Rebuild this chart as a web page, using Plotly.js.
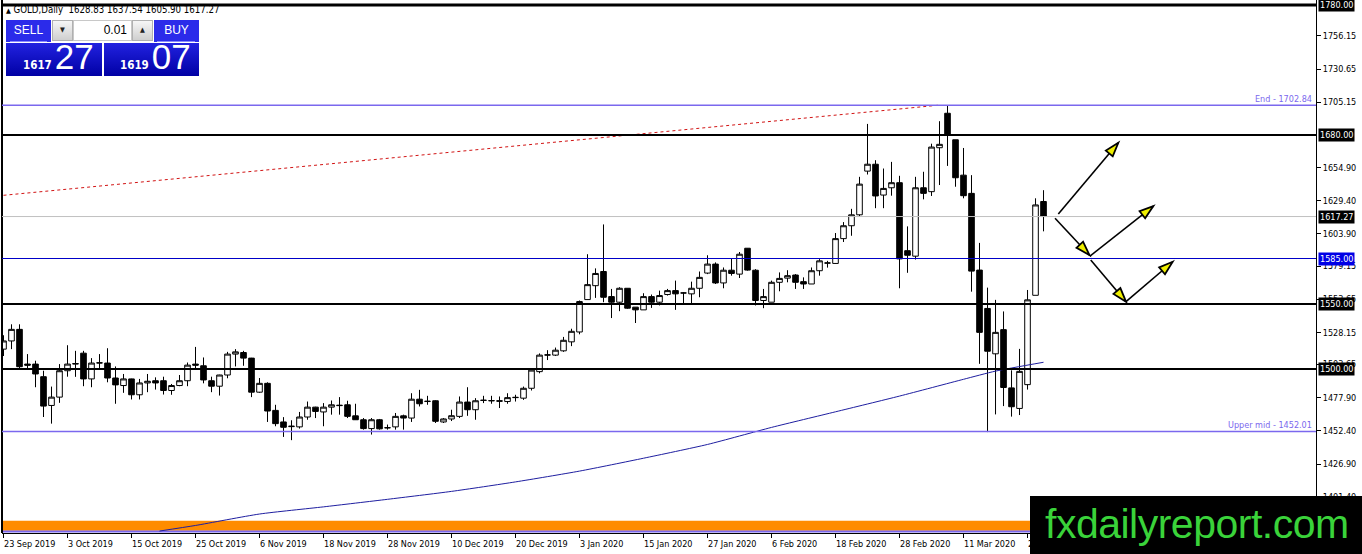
<!DOCTYPE html>
<html><head><meta charset="utf-8">
<script src="https://cdn.plot.ly/plotly-3.0.1.min.js"></script>
<style>
body{margin:0;padding:0;width:1362px;height:554px;overflow:hidden;background:#fff;position:relative;font-family:'DejaVu Sans Condensed','DejaVu Sans',sans-serif;}
#chart{position:absolute;left:0;top:0;width:1362px;height:554px;}
.abs{position:absolute;}
#hdr{left:6px;top:4px;font-size:9.6px;color:#000;white-space:pre;line-height:11px;}
.blueTop{background:#2b2bea;color:#fff;font-family:'Liberation Sans',sans-serif;font-size:12px;text-align:center;line-height:21px;}
.blueBig{background:linear-gradient(#2222e0,#0000a4);color:#fff;}
.sep{background:#8a8aff;height:1px;}
.btn{background:linear-gradient(#f6f6f6,#cfcfcf);border:1px solid #b0b0b0;box-sizing:border-box;font-size:7px;text-align:center;line-height:19px;color:#222;}
#inp{background:#fff;border:1px solid #c8c8c8;box-sizing:border-box;font-family:'Liberation Sans',sans-serif;font-size:12px;text-align:right;padding-right:4px;line-height:19px;color:#000;}
.pr{position:absolute;bottom:2px;display:flex;align-items:baseline;white-space:nowrap;}
.pr .s{font-family:'DejaVu Sans Condensed','DejaVu Sans',sans-serif;font-weight:bold;font-size:11.5px;}
.pr .b{font-family:'Liberation Sans Narrow','Liberation Sans',sans-serif;font-size:35px;margin-left:3px;line-height:34px;}
#wm{left:1030px;top:496px;width:332px;height:58px;background:#000;color:#3ad33a;font-family:'Liberation Sans',sans-serif;font-size:41px;letter-spacing:-0.5px;line-height:56px;text-align:left;padding-left:15px;box-sizing:border-box;white-space:nowrap;}
</style>
</head><body>
<div id="chart"></div>
<div id="hdr" class="abs"><span style="font-size:7px">▲</span> GOLD,Daily  1628.83 1637.54 1605.90 1617.27</div>
<div class="abs blueTop" style="left:6px;top:20px;width:45px;height:22px;">SELL</div>
<div class="abs sep" style="left:10px;top:41px;width:37px;"></div>
<div class="abs btn" style="left:52px;top:20px;width:21px;height:21px;">▼</div>
<div id="inp" class="abs" style="left:73px;top:20px;width:59px;height:21px;">0.01</div>
<div class="abs btn" style="left:132px;top:20px;width:21px;height:21px;">▲</div>
<div class="abs blueTop" style="left:154px;top:20px;width:45px;height:22px;">BUY</div>
<div class="abs sep" style="left:157px;top:41px;width:38px;"></div>
<div class="abs blueBig" style="left:6px;top:43px;width:96px;height:33px;"><div class="pr" style="left:17px;"><span class="s">1617</span><span class="b">27</span></div></div>
<div class="abs blueBig" style="left:104px;top:43px;width:95px;height:33px;"><div class="pr" style="left:16px;"><span class="s">1619</span><span class="b">07</span></div></div>
<div id="wm" class="abs">fxdailyreport.com</div>
<script>
// ---------- data ----------
const dates = [
'2019-09-23','2019-09-24','2019-09-25','2019-09-26','2019-09-27','2019-09-30',
'2019-10-01','2019-10-02','2019-10-03','2019-10-04','2019-10-07','2019-10-08','2019-10-09','2019-10-10','2019-10-11','2019-10-14','2019-10-15','2019-10-16','2019-10-17','2019-10-18','2019-10-21','2019-10-22','2019-10-23','2019-10-24','2019-10-25','2019-10-28','2019-10-29','2019-10-30','2019-10-31',
'2019-11-01','2019-11-04','2019-11-05','2019-11-06','2019-11-07','2019-11-08','2019-11-11','2019-11-12','2019-11-13','2019-11-14','2019-11-15','2019-11-18','2019-11-19','2019-11-20','2019-11-21','2019-11-22','2019-11-25','2019-11-26','2019-11-27','2019-11-28','2019-11-29',
'2019-12-02','2019-12-03','2019-12-04','2019-12-05','2019-12-06','2019-12-09','2019-12-10','2019-12-11','2019-12-12','2019-12-13','2019-12-16','2019-12-17','2019-12-18','2019-12-19','2019-12-20','2019-12-23','2019-12-24','2019-12-26','2019-12-27','2019-12-30','2019-12-31',
'2020-01-02','2020-01-03','2020-01-06','2020-01-07','2020-01-08','2020-01-09','2020-01-10','2020-01-13','2020-01-14','2020-01-15','2020-01-16','2020-01-17','2020-01-20','2020-01-21','2020-01-22','2020-01-23','2020-01-24','2020-01-27','2020-01-28','2020-01-29','2020-01-30','2020-01-31',
'2020-02-03','2020-02-04','2020-02-05','2020-02-06','2020-02-07','2020-02-10','2020-02-11','2020-02-12','2020-02-13','2020-02-14','2020-02-17','2020-02-18','2020-02-19','2020-02-20','2020-02-21','2020-02-24','2020-02-25','2020-02-26','2020-02-27','2020-02-28',
'2020-03-02','2020-03-03','2020-03-04','2020-03-05','2020-03-06','2020-03-09','2020-03-10','2020-03-11','2020-03-12','2020-03-13','2020-03-16','2020-03-17','2020-03-18','2020-03-19','2020-03-20','2020-03-23','2020-03-24','2020-03-25'];

const open = [1515.3,1521.6,1530.5,1503.8,1503.8,1494.1,1472,1478.4,1498.7,1503.8,
1512.2,1492.4,1504.6,1504.6,1493.1,1487.3,1492.4,1480.2,1489.3,1491,
1491,1483.5,1487.3,1491,1503.8,1502.5,1491,1486.8,1495.4,1511.5,
1512.7,1508.4,1482.2,1489,1468.2,1459.3,1455.7,1455.5,1463.1,1470.7,
1467,1470.7,1472.2,1472.5,1464,1461,1454.2,1461,1454.7,1455.5,
1464,1462.3,1476.8,1475,1475.6,1459.3,1461.6,1463.6,1474.6,1468.7,
1475.8,1475.8,1475.6,1475,1478,1477.6,1485.2,1498,1510.7,1510.7,
1514,1520.9,1528.5,1553.4,1564.1,1575,1555.7,1551.4,1562.1,1547.6,
1545.5,1555.7,1551.4,1557.3,1560.3,1558.5,1557.8,1562.1,1573.8,1580.7,
1566.2,1576,1573,1592.9,1576,1552.7,1551.4,1566.7,1569.9,1572.3,
1567.2,1565.4,1575.6,1581.4,1581.2,1600.3,1610.2,1618.6,1652.2,1657.5,
1633.8,1639.4,1643.3,1591,1586.8,1639.4,1636.4,1670.2,1696.7,1676.3,
1649.1,1635.1,1576.1,1546.6,1511.7,1530.3,1485.5,1469.7,1488,1556.7,
1628.83];
const high = [1526,1534.4,1534.4,1511.5,1506.4,1498.7,1486.5,1503.8,1518.3,1514,
1514,1508.4,1511.5,1516,1502,1496.2,1492.6,1492.4,1496.2,1493.6,
1494.1,1488.5,1495.4,1505,1517,1508.9,1494.1,1495.6,1513.2,1515.3,
1514,1508.6,1493.1,1489.8,1472.5,1463,1460.6,1467,1475,1471,
1473.8,1475.8,1478.4,1475.6,1473.3,1462.3,1462.3,1461.6,1457.3,1466.2,
1464.9,1481.4,1484,1479.4,1476,1462.3,1468.7,1478.9,1486,1477.6,
1479.4,1479.4,1478.9,1481.4,1480.2,1486.5,1500.5,1512,1514.5,1516.5,
1524.7,1531,1552.7,1588.3,1577.4,1611.2,1561.6,1562.9,1562.1,1547.6,
1558.3,1557.3,1560.3,1561.6,1568,1559,1567.2,1575,1587.5,1582,
1578.1,1585.2,1590,1593,1576.8,1561.6,1568,1574.3,1576,1573,
1570.5,1578.1,1584.5,1583.2,1604.6,1613,1623.2,1647.8,1688.5,1660.6,
1654.2,1659.3,1648.6,1609.7,1647.8,1651.7,1673.3,1690.6,1702.84,1676.3,
1670,1649.1,1597,1562.6,1553.2,1544.3,1499,1515.5,1560.8,1631.3,
1637.54];
const low = [1510,1515.3,1500.5,1500,1486,1463.1,1458,1474,1494.1,1494,
1486.8,1486,1500,1489.8,1473.3,1481.7,1476.6,1476.6,1482.2,1484.2,
1480.4,1480.2,1486.8,1486.8,1500,1489,1482.2,1479.6,1492.9,1502,
1502.5,1478.4,1481.7,1459.3,1456,1447.8,1445.3,1454.2,1461,1462.3,
1456,1464.9,1464.9,1462.3,1461,1453.4,1449.6,1453.4,1453.4,1453.4,
1453.4,1459.3,1471.2,1472.5,1458.5,1458.5,1460,1462.3,1464,1461,
1473.8,1473.3,1470,1473.3,1475,1476.3,1483.5,1496.7,1506.9,1510,
1513.2,1517.6,1526.7,1553.4,1554.7,1551.4,1539.2,1544.5,1546.3,1535.4,
1545.5,1547,1548.9,1556.5,1545.5,1550.6,1550.6,1555.2,1573,1565.4,
1562.1,1571.8,1570,1575.6,1548.9,1546.8,1551.4,1559.8,1566.7,1561.6,
1561.6,1565.4,1571.8,1578,1581,1597.7,1602.5,1617.3,1649.6,1623.7,
1623.7,1633.3,1562.1,1574,1584.2,1630.5,1633.1,1641.5,1656.2,1640.2,
1631.3,1559.5,1504,1451.5,1465.1,1471.5,1463.4,1464.6,1484.2,1556.7,
1605.9];
const close = [1521.6,1530.5,1501.8,1503,1496.2,1471.5,1478.4,1498.7,1503.8,1504.2,
1492.4,1504.6,1504.8,1493.1,1487.8,1492.4,1480.2,1489.3,1490.6,1489.3,
1483.5,1487.3,1491,1503,1503,1491.6,1486.8,1495.4,1511.5,1513.2,
1508.4,1482.2,1489,1467.7,1458,1455.2,1456,1463.1,1470.7,1467.4,
1470.7,1472.5,1471.9,1463.6,1461,1454.2,1461,1454,1454.9,1463.6,
1462.3,1476.8,1473.3,1475.2,1459.8,1461.6,1464.1,1474.6,1468.7,1475.6,
1476,1475.6,1475.3,1478,1478.2,1485.2,1499.2,1510.7,1510.9,1514.5,
1522.1,1529,1551.9,1564.9,1573.5,1555.2,1551.4,1562.1,1546.8,1545.5,
1555.7,1551.4,1556.5,1560.3,1557.8,1558.5,1562.1,1570.5,1580.7,1566.2,
1576,1573.5,1588.3,1576.1,1552.7,1555.7,1566.7,1569.7,1571.8,1566.7,
1565.4,1575.6,1583.2,1581.6,1600.3,1610.2,1618.6,1642.2,1657.5,1633.1,
1638.9,1643.3,1584.7,1587.5,1639.4,1635.1,1670.7,1672.8,1679.6,1647.1,
1633.3,1575.3,1528.2,1513.7,1528.2,1485.8,1471,1498.2,1553.2,1626.2,
1617.27];

// moving average readings (bar index -> value)
const maIndex = [19.5,24,32,40,48,56,64,72,80,88,96,104,112,120,124,130];
const maValue = [1375.4,1379.7,1388.5,1394,1399.8,1405.9,1413.2,1421.5,1431.4,1442,1455.1,1467.1,1479.2,1492.1,1498.4,1505.2];

// date axis labels
const tickDates = ['2019-09-23','2019-10-03','2019-10-15','2019-10-25','2019-11-06','2019-11-18','2019-11-28','2019-12-10','2019-12-20','2020-01-03','2020-01-15','2020-01-27','2020-02-06','2020-02-18','2020-02-28','2020-03-11','2020-03-23'];
const tickLabels = ['23 Sep 2019','3 Oct 2019','15 Oct 2019','25 Oct 2019','6 Nov 2019','18 Nov 2019','28 Nov 2019','10 Dec 2019','20 Dec 2019','3 Jan 2020','15 Jan 2020','27 Jan 2020','6 Feb 2020','18 Feb 2020','28 Feb 2020','11 Mar 2020','23 Mar 2020'];

// price axis ticks
const priceTicks = [1756.15,1730.65,1705.15,1654.90,1629.40,1603.90,1579.15,1553.65,1528.15,1503.65,1477.90,1452.40,1426.90,1401.40];

// horizontal levels
const blackLevels = [1780, 1680, 1550, 1500];
const blueLevel = 1585;
const lastPrice = 1617.27;
const endLevel = 1702.84;
const upperMidLevel = 1452.01;

// trend line (bar index, price)
const trendX = [0, 116.8];
const trendY = [1633.6, 1702.84];

// arrows (bar index, price) start -> end
const arrowX0 = [131.85, 131.44, 135.81, 135.9, 140.31];
const arrowY0 = [1619.2, 1615.9, 1586.9, 1583.8, 1551.8];
const arrowX1 = [139.35, 135.73, 143.73, 140.31, 146.15];
const arrowY1 = [1674.0, 1587.7, 1625.3, 1551.8, 1582.5];

// ---------- chart ----------
const W = 1362, H = 554;
const M = {l:2, r:46, t:0, b:21};
const xr = [-0.1875, 164.06];
const yr = [1373.9, 1783.8];
const idx = dates.map((d,i)=>i);
const tickIdx = tickDates.map(d=>dates.indexOf(d));
const FONT = "'DejaVu Sans Condensed','Liberation Sans',sans-serif";

const traces = [
  {type:'candlestick', x:idx, open:open, high:high, low:low, close:close,
   increasing:{line:{color:'#000',width:1}, fillcolor:'#fff'},
   decreasing:{line:{color:'#000',width:1}, fillcolor:'#000'},
   whiskerwidth:0, hoverinfo:'skip', showlegend:false},
  {type:'scatter', mode:'lines', x:maIndex, y:maValue, line:{color:'#1e1ea0',width:1,shape:'spline',smoothing:0.6}, hoverinfo:'skip', showlegend:false}
];

const shapes = [];
shapes.push({type:'rect', xref:'paper', yref:'y', x0:0, x1:1, y0:1375.7, y1:1383.3, fillcolor:'#ff8c00', line:{width:0}, layer:'below'});
shapes.push({type:'line', xref:'paper', yref:'y', x0:0, x1:1, y0:1375.0, y1:1375.0, line:{color:'#7b68ee',width:2}, layer:'below'});
shapes.push({type:'line', xref:'paper', yref:'paper', x0:0, x1:0, y0:0, y1:1, line:{color:'#000',width:2}});
shapes.push({type:'line', xref:'x', yref:'y', x0:trendX[0], x1:trendX[1], y0:trendY[0], y1:trendY[1], line:{color:'#d21414',width:1,dash:'dot'}});
shapes.push({type:'line', xref:'paper', yref:'y', x0:0, x1:1, y0:endLevel, y1:endLevel, line:{color:'#7b68ee',width:1.5}});
shapes.push({type:'line', xref:'paper', yref:'y', x0:0, x1:1, y0:upperMidLevel, y1:upperMidLevel, line:{color:'#7b68ee',width:1.5}});
shapes.push({type:'line', xref:'paper', yref:'y', x0:0, x1:1, y0:lastPrice, y1:lastPrice, line:{color:'#c0c0c0',width:1}});
shapes.push({type:'line', xref:'paper', yref:'y', x0:0, x1:1, y0:blueLevel, y1:blueLevel, line:{color:'#0000c8',width:1}});
blackLevels.forEach(v=>shapes.push({type:'line', xref:'paper', yref:'y', x0:0, x1:1, y0:v, y1:v, line:{color:'#000',width:v===1780?3:2}}));

const pxX = (W-M.l-M.r)/(xr[1]-xr[0]);
const pxY = (H-M.t-M.b)/(yr[1]-yr[0]);
for(let k=0;k<arrowX0.length;k++){
  shapes.push({type:'line', xref:'x', yref:'y', x0:arrowX0[k], y0:arrowY0[k], x1:arrowX1[k], y1:arrowY1[k], line:{color:'#000',width:1.6}});
  const dx=(arrowX1[k]-arrowX0[k])*pxX, dy=(arrowY1[k]-arrowY0[k])*pxY;
  const len=Math.hypot(dx,dy), ux=dx/len, uy=dy/len;
  const L=14, Wd=9;
  const bx=-L*ux, by=-L*uy, nx=-uy, ny=ux;
  const p=`M0,0L${(bx+nx*Wd/2).toFixed(2)},${(by+ny*Wd/2).toFixed(2)}L${(bx-nx*Wd/2).toFixed(2)},${(by-ny*Wd/2).toFixed(2)}Z`;
  shapes.push({type:'path', xref:'x', yref:'y', xsizemode:'pixel', ysizemode:'pixel', xanchor:arrowX1[k], yanchor:arrowY1[k], path:p, fillcolor:'#eeee00', line:{color:'#000',width:1.8}});
}

const annotations = [];
tickIdx.forEach((ix,k)=>annotations.push({x:ix, xref:'x', y:0, yref:'paper', yanchor:'top', xanchor:'left', xshift:-2, yshift:-4, text:tickLabels[k], showarrow:false, font:{family:FONT,size:9,color:'#000'}}));
const boxes = [[1780,'#000'],[1680,'#000'],[lastPrice,'#000'],[blueLevel,'#0000e6'],[1550,'#000'],[1500,'#000']];
boxes.forEach(b=>annotations.push({x:1, xref:'paper', y:b[0], yref:'y', xanchor:'left', yanchor:'middle', xshift:2, text:b[0].toFixed(2), showarrow:false, bgcolor:b[1], borderpad:1, font:{family:FONT,size:9,color:'#fff'}}));
annotations.push({x:1, xref:'paper', y:endLevel, yref:'y', xanchor:'right', yanchor:'bottom', xshift:-2, yshift:-1, text:'End - '+endLevel.toFixed(2), showarrow:false, font:{family:FONT,size:9,color:'#7b68ee'}});
annotations.push({x:1, xref:'paper', y:upperMidLevel, yref:'y', xanchor:'right', yanchor:'bottom', xshift:-2, yshift:-1, text:'Upper mid - '+upperMidLevel.toFixed(2), showarrow:false, font:{family:FONT,size:9,color:'#7b68ee'}});

const layout = {
  width:W, height:H, margin:M, paper_bgcolor:'#fff', plot_bgcolor:'#fff', showlegend:false,
  boxgap:0.3, boxgroupgap:0,
  xaxis:{range:xr, rangeslider:{visible:false}, showgrid:false, zeroline:false, showline:true, linecolor:'#000', linewidth:1,
         ticks:'outside', ticklen:4, tickcolor:'#000', tickvals:tickIdx, showticklabels:false, fixedrange:true},
  yaxis:{range:yr, side:'right', showgrid:false, zeroline:false, showline:true, linecolor:'#000', linewidth:1,
         ticks:'outside', ticklen:4, tickcolor:'#000', tickvals:priceTicks, ticktext:priceTicks.map(v=>v.toFixed(2)),
         tickfont:{family:FONT,size:9,color:'#000'}, fixedrange:true},
  shapes:shapes, annotations:annotations
};
Plotly.newPlot('chart', traces, layout, {staticPlot:true, displayModeBar:false});
</script>
</body></html>
